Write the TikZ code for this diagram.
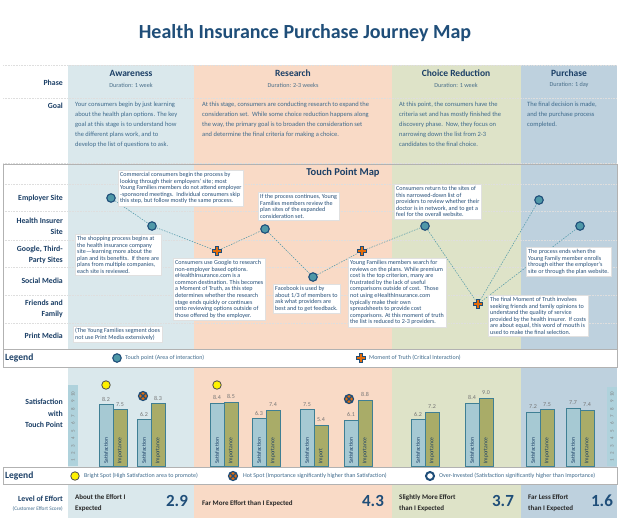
\documentclass[tikz,border=0pt]{standalone}
\usepackage{fontspec}
\setmainfont{Carlito}
\usetikzlibrary{calc}
\definecolor{navy}{HTML}{1F4E79}
\definecolor{labc}{HTML}{1B3F66}
\definecolor{awa}{HTML}{DAE8EC}
\definecolor{res}{HTML}{F9DAC6}
\definecolor{cho}{HTML}{DEE3C8}
\definecolor{pur}{HTML}{BED1DE}
\definecolor{tealc}{HTML}{4F98A8}
\definecolor{orng}{HTML}{E46C0A}
\definecolor{satc}{HTML}{A6C9D3}
\definecolor{impc}{HTML}{A9AC68}
\definecolor{barbd}{HTML}{3F7F94}
\definecolor{goalc}{HTML}{3E6A8C}
\definecolor{durc}{HTML}{4A6F8A}
\definecolor{boxc}{HTML}{264F78}
\definecolor{scalec}{HTML}{AFD2DC}
\tikzset{
 lbl/.style={font=\fontsize{7.8}{11}\selectfont\bfseries, text=labc, align=right, anchor=east, inner sep=0pt},
 phasehd/.style={font=\fontsize{9.5}{11}\selectfont\bfseries, text=labc, inner sep=0pt},
 dur/.style={font=\fontsize{6.2}{7}\selectfont, text=durc, inner sep=0pt},
 goal/.style={font=\fontsize{6.5}{10}\selectfont, text=goalc, align=left, anchor=north west, inner sep=0pt},
 tbox/.style={draw=black!12, fill=white, font=\fontsize{6.1}{6.6}\selectfont, text=boxc, align=left, anchor=north west, inner sep=2pt},
 tp/.style={circle, minimum size=8.5pt, inner sep=0pt, fill=tealc, draw=navy, line width=1.1pt},
 motn/.style={circle, minimum size=9pt, inner sep=0pt},
 bright/.style={circle, minimum size=8.5pt, inner sep=0pt, fill=yellow, draw=black!70, line width=0.8pt},
 overinv/.style={circle, minimum size=8pt, inner sep=0pt, fill=white, draw=navy, line width=2pt},
 conn/.style={draw=tealc, line width=0.5pt, dash pattern=on 1.5pt off 1.2pt},
 gridln/.style={draw=black!13, line width=0.35pt, dash pattern=on 0.6pt off 1pt},
 frm/.style={draw=black!30, line width=0.5pt},
 legtxt/.style={font=\fontsize{6}{7}\selectfont, text=goalc, anchor=west, inner sep=0pt},
 leghd/.style={font=\fontsize{9.5}{11}\selectfont\bfseries, text=labc, anchor=west, inner sep=0pt},
 val/.style={font=\fontsize{6}{7}\selectfont, text=black!55, inner sep=0pt},
 barlbl/.style={font=\fontsize{5.6}{6}\selectfont, text=labc, rotate=90, anchor=west, inner sep=0pt},
 scl/.style={font=\fontsize{5}{6}\selectfont, text=black!50, rotate=90, inner sep=0pt},
 effort/.style={font=\fontsize{7}{11}\selectfont\bfseries, text=black!85, align=left, anchor=west, inner sep=0pt},
 score/.style={font=\fontsize{17}{20}\selectfont\bfseries, text=navy, inner sep=0pt},
 satbar/.style={fill=satc, draw=barbd, line width=0.8pt},
 impbar/.style={fill=impc, draw=barbd, line width=0.8pt},
 motpic/.pic={\path[fill=orng, draw=navy, line width=0.8pt] (-1.7,-4.5) -- (1.7,-4.5) -- (1.7,-1.7) -- (4.5,-1.7) -- (4.5,1.7) -- (1.7,1.7) -- (1.7,4.5) -- (-1.7,4.5) -- (-1.7,1.7) -- (-4.5,1.7) -- (-4.5,-1.7) -- (-1.7,-1.7) -- cycle;},
 hotpic/.pic={\fill[orng] (0,0) circle (4.5pt); \draw[navy, line width=1.2pt] (0,0) circle (4.5pt) (-3.2,-3.2) -- (3.2,3.2) (-3.2,3.2) -- (3.2,-3.2);},
}
\begin{document}
\begin{tikzpicture}[x=1pt,y=-1pt]
\useasboundingbox[fill=white] (0,0) rectangle (620,520);
% phase bands
\fill[awa] (68,65) rectangle (194,518);
\fill[res] (194,65) rectangle (392,518);
\fill[cho] (392,65) rectangle (521,518);
\fill[pur] (521,65) rectangle (617,518);
% grid lines
\foreach \yy in {65,98,163,184,211,240,267,295,323} \draw[gridln] (3,\yy) -- (617,\yy);
% frames and legend bands
\draw[frm] (3,164) rectangle (617,349);
\draw[frm, fill=white] (3,349) rectangle (617,367);
\draw[frm, fill=white] (3,467) rectangle (617,484);
% title
\node[font=\fontsize{20}{24}\selectfont\bfseries, text=navy] (title) at (305,33) {Health Insurance Purchase Journey Map};
% phase headers
\node[phasehd] (pa) at (131,73) {Awareness};
\node[dur] (da) at (131,85) {Duration: 1 week};
\node[phasehd] (pr) at (293,73) {Research};
\node[dur] (dr) at (293,85) {Duration: 2-3 weeks};
\node[phasehd] (pc) at (456,73) {Choice Reduction};
\node[dur] (dc) at (456,85) {Duration: 1 week};
\node[phasehd] (pp) at (569,73) {Purchase};
\node[dur] (dp) at (569,85) {Duration: 1 day};
% row labels
\node[lbl] (lphase) at (63,83) {Phase};
\node[lbl] (lgoal) at (63,106) {Goal};
\node[lbl] (lemp) at (63,198) {Employer Site};
\node[lbl] (lhis) at (63,226.5) {Health Insurer\\Site};
\node[lbl] (lgoo) at (63,254.5) {Google, Third-\\Party Sites};
\node[lbl] (lsoc) at (63,281) {Social Media};
\node[lbl] (lfri) at (63,308.5) {Friends and\\Family};
\node[lbl] (lpri) at (63,336) {Print Media};
\node[lbl, font=\fontsize{7.8}{11.5}\selectfont\bfseries] (lsat) at (63,413.5) {Satisfaction\\with\\Touch Point};
\node[lbl] (leff) at (63,499) {Level of Effort};
\node[lbl, font=\fontsize{5.3}{6}\selectfont, text=goalc] (lces) at (63,509) {(Customer Effort Score)};
% goals
\node[goal] (ga) at (75,102) {Your consumers begin by just learning\\about the health plan options. The key\\goal at this stage is to understand how\\the different plans work, and to\\develop the list of questions to ask.};
\node[goal] (gr) at (202,102) {At this stage, consumers are conducting research to expand the\\consideration set.\ \ While some choice reduction happens along\\the way, the primary goal is to broaden the consideration set\\and determine the final criteria for making a choice.};
\node[goal] (gc) at (399,102) {At this point, the consumers have the\\criteria set and has mostly finished the\\discovery phase.\ \ Now, they focus on\\narrowing down the list from 2-3\\candidates to the final choice.};
\node[goal] (gp) at (527,102) {The final decision is made,\\and the purchase process\\completed.};
% map title
\node[font=\fontsize{10.5}{12}\selectfont\bfseries, text=labc] (maptitle) at (343,173) {Touch Point Map};
% touch points
\node[tp] (e1) at (111,198) {};
\node[tp] (a2) at (152,226) {};
\node[motn] (m1) at (217,251) {};
\node[tp] (r2) at (265,229) {};
\node[tp] (r3) at (313,277) {};
\node[motn] (m2) at (362,251) {};
\node[tp] (c1) at (425,226) {};
\node[motn] (m3) at (478,304) {};
\node[tp] (p1) at (539,200) {};
\node[tp] (p2) at (580,226) {};
% connectors
\draw[conn] (e1) -- (a2);
\draw[conn] (a2) -- (m1);
\draw[conn] (m1) -- (r2);
\draw[conn] (r2) -- (r3);
\draw[conn] (r3) -- (m2);
\draw[conn] (m2) -- (c1);
\draw[conn] (c1) -- (m3);
\draw[conn] (m3) -- (p1);
\draw[conn] (m3) -- (p2);
% text boxes
\node[tbox] (b1) at (118,170) {Commercial consumers begin the process by\\looking through their employers' site; most\\Young Families members do not attend employer\\-sponsored meetings.\ \ Individual consumers skip\\this step, but follow mostly the same process.};
\node[tbox] (b2) at (75,234) {The shopping process begins at\\the health insurance company\\site---learning more about the\\plan and its benefits.\ \ If there are\\plans from multiple companies,\\each site is reviewed.};
\node[tbox] (b3) at (258,192) {If the process continues, Young\\Families members review the\\plan sites of the expanded\\consideration set.};
\node[tbox] (b4) at (173,258) {Consumers use Google to research\\non-employer based options.\\eHealthInsurance.com is a\\common destination. This becomes\\a Moment of Truth, as this step\\determines whether the research\\stage ends quickly or continues\\onto reviewing options outside of\\those offered by the employer.};
\node[tbox] (b5) at (273,284) {Facebook is used by\\about 1/3 of members to\\ask what providers are\\best and to get feedback.};
\node[tbox] (b6) at (348,258) {Young Families members search for\\reviews on the plans. While premium\\cost is the top criterion, many are\\frustrated by the lack of useful\\comparisons outside of cost.\ \ Those\\not using eHealthInsurance.com\\typically make their own\\spreadsheets to provide cost\\comparisons. At this moment of truth\\the list is reduced to 2-3 providers.};
\node[tbox] (b7) at (394,184) {Consumers return to the sites of\\this narrowed-down list of\\providers to review whether their\\doctor is in network, and to get a\\feel for the overall website.};
\node[tbox] (b8) at (526,247) {The process ends when the\\Young Family member enrolls\\through either the employer's\\site or through the plan website.};
\node[tbox] (b9) at (488,295) {The final Moment of Truth involves\\seeking friends and family opinions to\\understand the quality of service\\provided by the health insurer.\ \ If costs\\are about equal, this word of mouth is\\used to make the final selection.};
\node[tbox] (b10) at (73,326) {(The Young Families segment does\\not use Print Media extensively)};
% moment of truth marks
\pic at (m1) {motpic};
\pic at (m2) {motpic};
\pic at (m3) {motpic};
% legend 1
\node[leghd] (lg1) at (5,358) {Legend};
\node[tp] (ltp) at (117,358) {};
\node[legtxt] (ltpt) at (125,358) {Touch point (Area of interaction)};
\node[motn] (lmot) at (361,358) {};
\pic at (lmot) {motpic};
\node[legtxt] (lmott) at (369,358) {Moment of Truth (Critical Interaction)};
% scale strips
\fill[scalec] (68,385) rectangle (78,466);
\fill[scalec] (607,387) rectangle (617,466);
\foreach \n in {1,...,10} {
  \node[scl] at (73,{466-\n*7.4+2}) {\n};
  \node[scl] at (612,{466-\n*7.4+2}) {\n};
}
% bars
\foreach \bx/\sv/\iv/\il in {99/8.2/7.5/Importance, 137/6.2/8.3/Importance, 210/8.4/8.5/Importance, 252/6.3/7.4/Importance, 300/7.5/5.4/Import, 344/6.1/8.8/Importance, 411/6.2/7.2/Importance, 465/8.4/9.0/Importance, 526/7.2/7.5/Importance, 566/7.7/7.4/Importance} {
  \draw[satbar] (\bx,466) rectangle ({\bx+14},{466-\sv*7.5});
  \draw[impbar] ({\bx+14},466) rectangle ({\bx+28},{466-\iv*7.5});
  \node[val] at ({\bx+7},{466-\sv*7.5-5.5}) {\sv};
  \node[val] at ({\bx+21},{466-\iv*7.5-5.5}) {\iv};
  \node[barlbl] at ({\bx+7},464) {Satisfaction};
  \node[barlbl] at ({\bx+21},464) {\il};
}
% spot icons
\node[bright] (bs1) at (106,385) {};
\node[bright] (bs2) at (217,385) {};
\node[motn] (hs1) at (143,396) {};
\pic at (hs1) {hotpic};
\node[motn] (hs2) at (349,399) {};
\pic at (hs2) {hotpic};
% legend 2
\node[leghd] (lg2) at (5,476) {Legend};
\node[bright] (lbs) at (75,476) {};
\node[legtxt] (lbst) at (84,476) {Bright Spot (High Satisfaction area to promote)};
\node[motn] (lhs) at (233,476) {};
\pic at (lhs) {hotpic};
\node[legtxt] (lhst) at (243,476) {Hot Spot (Importance significantly higher than Satisfaction)};
\node[overinv] (lov) at (430,476) {};
\node[legtxt] (lovt) at (439,476) {Over-Invested (Satisfaction significantly higher than Importance)};
% level of effort
\node[effort] (ea) at (75,503.5) {About the Effort I\\Expected};
\node[score] (sa) at (177,501) {2.9};
\node[effort] (er) at (202,503.5) {Far More Effort than I Expected};
\node[score] (sr) at (373,501) {4.3};
\node[effort] (ec) at (399,503.5) {Slightly More Effort\\than I Expected};
\node[score] (sc) at (503,501) {3.7};
\node[effort] (ep) at (528,503.5) {Far Less Effort\\than I Expected};
\node[score] (sp) at (602,501) {1.6};
\end{tikzpicture}
\end{document}
